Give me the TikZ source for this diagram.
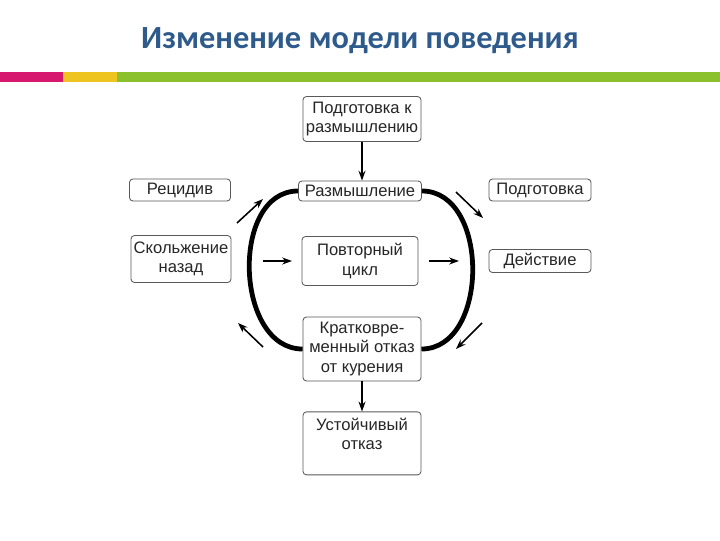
\documentclass[tikz,border=0pt]{standalone}
\usepackage{fontspec}
\setmainfont{Liberation Sans}
\newfontfamily\titlefont{Carlito}
\usetikzlibrary{positioning,arrows.meta}
\definecolor{titleblue}{HTML}{2E5B8C}
\definecolor{barpink}{HTML}{D6186E}
\definecolor{baryellow}{HTML}{EEC421}
\definecolor{bargreen}{HTML}{8CC12E}

\begin{document}
\begin{tikzpicture}[x=0.025cm, y=-0.025cm,
  box/.style={draw=black!65, rounded corners=2.5pt, align=center, inner sep=0pt,
    text=black!85, font=\fontsize{11.8}{13.6}\selectfont, line width=0.6pt},
  cycle/.style={line width=3.4pt},
  move/.style={-{Stealth[length=7pt,width=5pt]}, line width=1.1pt}]
  \useasboundingbox (0,0) rectangle (720,540);
  % title and colour bar
  \node[font=\titlefont\bfseries\fontsize{23}{26}\selectfont, text=titleblue] (title) at (360,41) {Изменение модели поведения};
  \fill[barpink] (0,72) rectangle (63,82);
  \fill[baryellow] (63,72) rectangle (117,82);
  \fill[bargreen] (117,72) rectangle (720,82);
  % stages
  \node[box, minimum width=2.95cm, minimum height=1.125cm] (prep) at (362,119) {Подготовка к\\размышлению};
  \node[box, minimum width=3.075cm, minimum height=0.5cm] (think) at (360,191) {Размышление};
  \node[box, minimum width=2.525cm, minimum height=0.55cm] (relapse) at (180,190) {Рецидив};
  \node[box, minimum width=2.55cm, minimum height=0.55cm] (ready) at (540,190) {Подготовка};
  \node[box, minimum width=2.5cm, minimum height=1.175cm] (slip) at (181,259) {Скольжение\\назад};
  \node[box, minimum width=2.9cm, minimum height=1.225cm] (recycle) at (360,261) {Повторный\\цикл};
  \node[box, minimum width=2.55cm, minimum height=0.575cm] (action) at (540,261) {Действие};
  \node[box, minimum width=2.95cm, minimum height=1.6cm] (quit) at (362,349) {Кратковре-\\менный отказ\\от курения};
  \node[box, minimum width=2.95cm, minimum height=1.575cm, below=0.75cm of quit] (stable) {Устойчивый\\отказ\\\mbox{}};
  % main flow
  \draw[move] (prep) -- (prep |- think.north);
  \draw[move] (quit) -- (stable);
  \draw[cycle] (think.west) to[out=180, in=180, looseness=1.1] (quit.west);
  \draw[cycle] (think.east) to[out=0, in=0, looseness=1.1] (quit.east);
  % side arrows
  \coordinate (relapse-a) at (237,223);
  \coordinate (relapse-b) at (263,199);
  \coordinate (slip-a) at (263,261);
  \coordinate (slip-b) at (292,261);
  \coordinate (back-a) at (263,347);
  \coordinate (back-b) at (238,323);
  \coordinate (ready-a) at (456,192);
  \coordinate (ready-b) at (483,218);
  \coordinate (action-a) at (429,261);
  \coordinate (action-b) at (459,261);
  \coordinate (quit-a) at (482,323);
  \coordinate (quit-b) at (456,349);
  \draw[move] (relapse-a) -- (relapse-b);
  \draw[move] (slip-a) -- (slip-b);
  \draw[move] (back-a) -- (back-b);
  \draw[move] (ready-a) -- (ready-b);
  \draw[move] (action-a) -- (action-b);
  \draw[move] (quit-a) -- (quit-b);
\end{tikzpicture}
\end{document}
